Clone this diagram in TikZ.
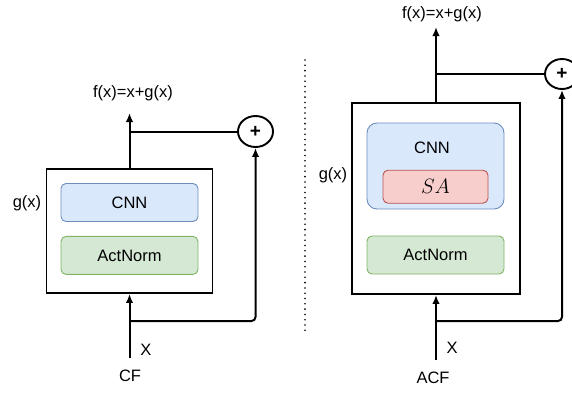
\documentclass[tikz,border=0pt]{standalone}
\usepackage{fontspec}
\setmainfont{Liberation Sans}
\usepackage{xcolor}
\usetikzlibrary{positioning, shapes.geometric, arrows.meta}
\definecolor{cnnfill}{HTML}{DAE8FC}
\definecolor{cnndraw}{HTML}{6C8EBF}
\definecolor{normfill}{HTML}{D5E8D4}
\definecolor{normdraw}{HTML}{82B366}
\definecolor{safill}{HTML}{F8CECC}
\definecolor{sadraw}{HTML}{B85450}
\begin{document}
\begin{tikzpicture}[
    x=1pt, y=-1pt,
    font=\fontsize{16.5}{19}\selectfont,
    outer/.style={rectangle, draw=black, line width=1.9pt, fill=white},
    cnn/.style={rectangle, rounded corners=5pt, draw=cnndraw, fill=cnnfill, line width=0.9pt, minimum width=137pt, minimum height=38pt},
    norm/.style={rectangle, rounded corners=5pt, draw=normdraw, fill=normfill, line width=0.9pt, minimum width=137pt, minimum height=38pt},
    sa/.style={rectangle, rounded corners=5pt, draw=sadraw, fill=safill, line width=0.9pt, minimum width=105pt, minimum height=33pt},
    plus/.style={ellipse, draw=black, line width=1.9pt, fill=white, minimum width=35pt, minimum height=31pt, inner sep=0pt},
    arrow/.style={-{Latex[length=9pt,width=7.5pt]}, line width=2pt},
    line/.style={line width=2pt}
]
\useasboundingbox (0,0) rectangle (572,392);

% CF block
\node[outer, minimum width=166pt, minimum height=124pt] (lbox) at (129.5,231) {};
\node[cnn] (lcnn) at (129.5,202.5) {CNN};
\node[norm, below=14pt of lcnn] (lact) {ActNorm};
\node[plus] (lplus) at (255.5,131.5) {\fontsize{19}{19}\selectfont\textbf{+}};
\coordinate (lin) at (129.5,358);
\coordinate (lsplit) at (129.5,321);
\coordinate (lout) at (129.5,113);

\draw[arrow] (lin) -- (lbox.south);
\draw[arrow, rounded corners=4pt] (lsplit) -| (lplus.south);
\draw[arrow] (lbox.north) -- (lout);
\draw[line] (lplus.west) -- (lplus.west -| lout);

\node (lf) at (133,93) {f(x)=x+g(x)};
\node (lg) at (27,203) {g(x)};
\node (lx) at (146,350) {X};
\node (lcf) at (130,376) {CF};

% separator
\draw[line width=1.8pt, line cap=round, dash pattern=on 0pt off 5.3pt] (305,60) -- (305,333);

% ACF block
\node[outer, minimum width=168pt, minimum height=191pt] (rbox) at (436,198.5) {};
\node[cnn, rounded corners=10pt, minimum height=86pt] (rcnn) at (435.5,166) {};
\node (rcnnlabel) at (432,148) {CNN};
\node[sa] (rsa) at (435.5,186.7) {\fontsize{20}{22}\selectfont$SA$};
\node[norm] (ract) at (435.5,255) {ActNorm};
\node[plus, minimum width=34pt, minimum height=30pt] (rplus) at (562,74) {\fontsize{19}{19}\selectfont\textbf{+}};
\coordinate (rin) at (436,360);
\coordinate (rsplit) at (436,321);
\coordinate (rout) at (436,27);

\draw[arrow] (rin) -- (rbox.south);
\draw[arrow, rounded corners=4pt] (rsplit) -| (rplus.south);
\draw[arrow] (rbox.north) -- (rout);
\draw[line] (rplus.west) -- (rplus.west -| rout);

\node (rf) at (442,14) {f(x)=x+g(x)};
\node (rg) at (333,175) {g(x)};
\node (rx) at (452,348) {X};
\node (racf) at (433,378) {ACF};

\end{tikzpicture}
\end{document}
